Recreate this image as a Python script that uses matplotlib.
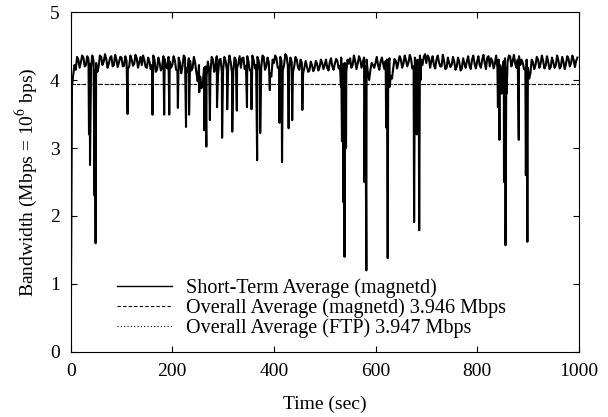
import matplotlib
matplotlib.use('Agg')
import matplotlib.pyplot as plt
import numpy as np

plt.rcParams['font.family'] = ['Liberation Serif', 'DejaVu Serif']
plt.rcParams['mathtext.fontset'] = 'stix'

# short-term average (magnetd), every 5 s ...
base_t = np.arange(0, 1000, 5)
base_v = [
    0.00, 4.08, 4.15, 4.30, 4.26, 4.33, 4.22, 4.31, 4.18, 4.28,
    4.25, 4.20, 4.34, 4.27, 4.31, 4.24, 4.35, 4.22, 4.30, 4.26,
    4.33, 4.21, 4.28, 4.19, 4.30, 4.24, 4.32, 4.26, 4.22, 4.29,
    4.18, 4.27, 4.22, 4.30, 4.15, 4.25, 4.20, 4.31, 4.17, 4.27,
    4.22, 4.29, 4.14, 4.26, 4.20, 4.33, 4.12, 4.28, 4.18, 4.25,
    3.98, 4.05, 3.95, 4.20, 4.27, 4.10, 4.30, 4.22, 4.08, 4.31,
    4.15, 4.28, 4.20, 4.26, 4.12, 4.30, 4.24, 4.18, 4.33, 4.21,
    4.27, 4.15, 4.30, 4.22, 4.28, 4.18, 4.34, 4.20, 4.26, 4.05,
    4.25, 4.32, 4.18, 4.28, 4.22, 4.35, 4.15, 4.27, 4.20, 4.30,
    4.15, 4.25, 4.18, 4.20, 4.14, 4.22, 4.17, 4.24, 4.19, 4.25,
    4.22, 4.18, 4.26, 4.20, 4.24, 4.28, 4.21, 4.15, 4.25, 4.30,
    4.32, 4.22, 4.28, 4.24, 4.30, 4.26, 4.20, 4.10, 4.15, 4.22,
    4.25, 4.22, 4.27, 4.24, 4.28, 4.20, 4.06, 4.18, 4.28, 4.26,
    4.30, 4.24, 4.29, 4.26, 4.31, 4.20, 4.18, 4.27, 4.30, 4.34,
    4.25, 4.33, 4.28, 4.22, 4.30, 4.26, 4.20, 4.28, 4.18, 4.25,
    4.22, 4.27, 4.20, 4.26, 4.17, 4.24, 4.28, 4.21, 4.30, 4.24,
    4.27, 4.22, 4.30, 4.25, 4.33, 4.20, 4.28, 4.24, 4.18, 4.22,
    4.20, 4.32, 4.26, 4.35, 4.28, 4.24, 4.30, 4.22, 4.25, 4.15,
    4.18, 4.10, 4.26, 4.22, 4.30, 4.24, 4.28, 4.21, 4.27, 4.19,
    4.26, 4.22, 4.29, 4.20, 4.27, 4.24, 4.31, 4.25, 4.30, 4.28,
]

# ... and in between (2.5 s offset), which gives the band its thickness
half_t = np.arange(2.5, 1000, 5)
half_v = [
    3.90, 4.22, 4.34, 4.18, 4.36, 4.20, 4.35, 4.24, 4.36, 4.15,
    4.12, 4.36, 4.22, 4.38, 4.18, 4.33, 4.20, 4.37, 4.19, 4.34,
    4.20, 4.35, 4.17, 4.36, 4.21, 4.37, 4.18, 4.34, 4.36, 4.19,
    4.33, 4.16, 4.36, 4.12, 4.33, 4.14, 4.35, 4.20, 4.34, 4.18,
    4.35, 4.15, 4.33, 4.10, 4.36, 4.18, 4.32, 4.14, 4.34, 4.10,
    4.22, 3.88, 4.18, 4.05, 4.15, 4.34, 4.12, 4.35, 4.30, 4.12,
    4.34, 4.14, 4.36, 4.10, 4.33, 4.18, 4.35, 4.32, 4.16, 4.35,
    4.14, 4.36, 4.17, 4.34, 4.12, 4.36, 4.15, 4.33, 4.10, 4.30,
    4.36, 4.18, 4.34, 4.14, 4.38, 4.20, 4.33, 4.12, 4.34, 4.18,
    4.30, 4.10, 4.28, 4.12, 4.27, 4.13, 4.28, 4.14, 4.30, 4.16,
    4.30, 4.14, 4.32, 4.15, 4.31, 4.17, 4.33, 4.24, 4.12, 4.24,
    4.18, 4.36, 4.16, 4.35, 4.18, 4.33, 4.30, 4.00, 4.25, 4.18,
    4.34, 4.15, 4.33, 4.16, 4.30, 4.32, 4.02, 4.31, 4.17, 4.35,
    4.18, 4.36, 4.20, 4.37, 4.17, 4.33, 4.30, 4.36, 4.22, 4.38,
    4.36, 4.18, 4.35, 4.17, 4.36, 4.20, 4.37, 4.16, 4.33, 4.19,
    4.34, 4.15, 4.33, 4.14, 4.32, 4.18, 4.35, 4.16, 4.36, 4.17,
    4.35, 4.18, 4.37, 4.16, 4.35, 4.32, 4.17, 4.36, 4.30, 4.10,
    4.28, 4.18, 4.36, 4.20, 4.37, 4.18, 4.35, 4.30, 4.16, 4.30,
    4.02, 4.30, 4.16, 4.34, 4.18, 4.36, 4.17, 4.35, 4.16, 4.33,
    4.18, 4.36, 4.17, 4.34, 4.16, 4.35, 4.20, 4.36, 4.19, 4.33,
]

# dips in the trace
dip_t = [36, 38, 47, 49, 112, 161, 184, 194, 211, 227, 233, 253, 263, 267,
         274, 288, 298, 308, 318, 327, 347, 356, 367, 373, 392, 411, 416,
         429, 436, 456, 532, 534, 537, 539, 542, 578, 582, 621, 624, 628,
         676, 681, 686, 689, 841, 844, 848, 853, 856, 858, 882, 896, 899]
dip_v = [3.20, 2.75, 2.30, 1.60, 3.50, 3.49, 3.49, 3.49, 3.59, 3.31, 3.49,
         3.82, 3.26, 3.02, 3.41, 3.60, 3.15, 3.57, 3.24, 3.55, 3.60, 3.57,
         2.82, 3.22, 3.85, 3.37, 2.79, 3.29, 3.41, 3.56, 3.90, 3.10, 2.20,
         1.40, 3.00, 2.50, 1.20, 3.30, 1.38, 3.90, 1.91, 3.20, 1.79, 4.00,
         3.60, 3.12, 3.80, 2.50, 1.57, 3.80, 3.12, 2.60, 1.62]

avg_magnetd = 3.946
avg_ftp = 3.947

t = np.concatenate([base_t, half_t, dip_t])
v = np.concatenate([base_v, half_v, dip_v])
order = np.argsort(t, kind='stable')
t = t[order]
v = v[order]

fig = plt.figure(figsize=(6.08, 4.17), dpi=100)
ax = fig.add_axes([0.1163, 0.1559, 0.8355, 0.8153])

ax.plot(t, v, color='black', lw=1.5, label='Short-Term Average (magnetd)')
ax.axhline(avg_magnetd, color='black', lw=0.8, ls=(0, (3, 2)),
           label='Overall Average (magnetd) 3.946 Mbps')
ax.axhline(avg_ftp, color='black', lw=0.8, ls=(0, (1, 2)),
           label='Overall Average (FTP) 3.947 Mbps')

ax.set_xlim(0, 1000)
ax.set_ylim(0, 5)
ax.set_xticks([0, 200, 400, 600, 800, 1000])
ax.set_yticks([0, 1, 2, 3, 4, 5])
ax.tick_params(direction='in', top=True, right=True, length=4, labelsize=14, pad=8)
ax.set_xlabel('Time (sec)', fontsize=14, labelpad=11)
ax.set_ylabel(r'Bandwidth (Mbps = 10$^6$ bps)', fontsize=14, labelpad=8)

leg = ax.legend(loc='lower left', bbox_to_anchor=(0.063, 0.0), frameon=False,
                fontsize=14.5, handlelength=2.75, handletextpad=0.7,
                labelspacing=0.0, borderpad=0.2)
leg.get_lines()[0].set_linewidth(1.0)

fig.savefig('out.png', dpi=100)
